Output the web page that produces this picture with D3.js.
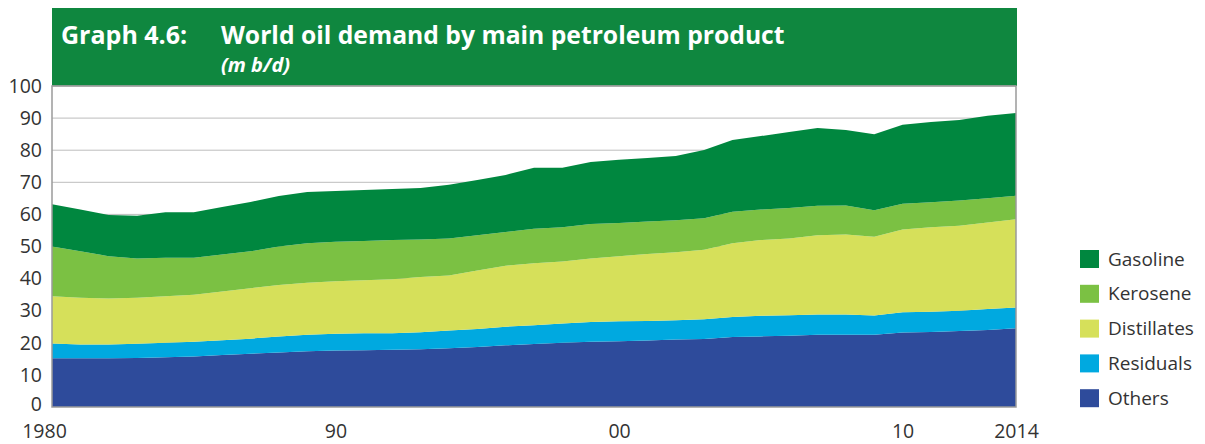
<!DOCTYPE html>
<html>
<head>
<meta charset="utf-8">
<script src="https://cdn.jsdelivr.net/npm/d3@7"></script>
<style>
  body { margin: 0; background: #fff; }
  svg { display: block; font-family: "Open Sans", "Noto Sans", sans-serif; }
</style>
</head>
<body>
<svg id="chart" width="1205" height="444"></svg>
<script>
const years = d3.range(1980, 2015);

// m b/d
const others = [15.2, 15.2, 15.2, 15.3, 15.5, 15.7, 16.2, 16.6, 17.0, 17.4,
  17.6, 17.7, 17.8, 18.0, 18.3, 18.7, 19.2, 19.6, 20.0, 20.3,
  20.5, 20.7, 21.0, 21.2, 21.8, 22.0, 22.2, 22.5, 22.5, 22.5,
  23.2, 23.4, 23.7, 24.0, 24.5];
const residuals = [4.6, 4.3, 4.3, 4.4, 4.5, 4.6, 4.6, 4.7, 5.0, 5.1,
  5.2, 5.3, 5.2, 5.3, 5.5, 5.6, 5.8, 5.9, 6.0, 6.2,
  6.2, 6.1, 6.0, 6.1, 6.2, 6.4, 6.4, 6.3, 6.3, 6.0,
  6.3, 6.3, 6.3, 6.5, 6.5];
const distillates = [14.7, 14.5, 14.3, 14.3, 14.5, 14.7, 15.2, 15.7, 16.0, 16.2,
  16.4, 16.5, 16.8, 17.2, 17.2, 18.2, 19.0, 19.3, 19.3, 19.8,
  20.3, 20.9, 21.2, 21.7, 23.0, 23.6, 23.9, 24.7, 24.9, 24.5,
  25.8, 26.3, 26.5, 27.0, 27.5];
const kerosene = [15.5, 14.5, 13.2, 12.3, 12.0, 11.5, 11.5, 11.5, 12.0, 12.3,
  12.3, 12.2, 12.2, 11.7, 11.5, 11.0, 10.5, 10.7, 10.7, 10.7,
  10.3, 10.1, 10.0, 9.8, 9.8, 9.5, 9.5, 9.2, 9.1, 8.3,
  8.0, 7.8, 7.8, 7.5, 7.3];
const gasoline = [13.2, 13.0, 12.8, 13.3, 14.2, 14.2, 14.8, 15.4, 15.7, 16.0,
  15.8, 15.9, 15.9, 16.0, 16.7, 17.2, 17.8, 19.0, 18.5, 19.3,
  19.7, 19.8, 20.0, 21.3, 22.4, 22.9, 23.7, 24.2, 23.5, 23.7,
  24.6, 25.0, 25.1, 25.7, 25.8];

const keys = ["Others", "Residuals", "Distillates", "Kerosene", "Gasoline"];
const colors = ["#2e4b9b", "#00a9e0", "#d6e05a", "#7bc143", "#00873f"];
const yTicks = d3.range(0, 101, 10);
const xTicks = [1980, 1990, 2000, 2010, 2014];
const xTickLabels = ["1980", "90", "00", "10", "2014"];

const table = years.map((yr, i) => ({
  year: yr,
  Others: others[i],
  Residuals: residuals[i],
  Distillates: distillates[i],
  Kerosene: kerosene[i],
  Gasoline: gasoline[i]
}));

const margin = {left: 52, right: 189, top: 86, bottom: 37};
const W = 1205, H = 444;

const svg = d3.select("#chart");

const x = d3.scaleLinear()
  .domain([1980, 2014])
  .range([margin.left, W - margin.right]);
const y = d3.scaleLinear()
  .domain([0, 100])
  .range([H - margin.bottom, margin.top]);
const color = d3.scaleOrdinal().domain(keys).range(colors);

// title banner
svg.append("rect")
  .attr("x", 52).attr("y", 8)
  .attr("width", W - margin.right - 52 + 1).attr("height", 78)
  .attr("fill", "#0f873f");
svg.append("text")
  .attr("x", 61).attr("y", 44)
  .attr("fill", "#fff")
  .style("font-size", "25px").style("font-weight", "bold")
  .text("Graph 4.6:");
svg.append("text")
  .attr("x", 221).attr("y", 44)
  .attr("fill", "#fff")
  .style("font-size", "24.7px").style("font-weight", "bold")
  .text("World oil demand by main petroleum product");
svg.append("text")
  .attr("x", 221).attr("y", 72)
  .attr("fill", "#fff")
  .style("font-size", "20px").style("font-weight", "bold").style("font-style", "italic")
  .text("(m b/d)");

// gridlines
svg.append("g")
  .selectAll("line")
  .data(yTicks.slice(1))
  .join("line")
  .attr("x1", x(1980)).attr("x2", x(2014))
  .attr("y1", d => y(d)).attr("y2", d => y(d))
  .attr("stroke", "#bdbdbd").attr("stroke-width", 1);

// stacked areas
const series = d3.stack().keys(keys)(table);
const area = d3.area()
  .x(d => x(d.data.year))
  .y0(d => y(d[0]))
  .y1(d => y(d[1]));

svg.append("g")
  .selectAll("path")
  .data(series)
  .join("path")
  .attr("fill", d => color(d.key))
  .attr("d", area);

// frame
svg.append("rect")
  .attr("x", x(1980)).attr("y", y(100))
  .attr("width", x(2014) - x(1980)).attr("height", y(0) - y(100))
  .attr("fill", "none").attr("stroke", "#9a9a9a").attr("stroke-width", 1.5);

// y axis
const yAxis = svg.append("g")
  .attr("transform", `translate(${x(1980)},0)`)
  .call(d3.axisLeft(y).tickValues(yTicks).tickSize(0).tickPadding(10));
yAxis.select(".domain").remove();
yAxis.selectAll("text")
  .style("font-size", "19.5px").attr("fill", "#333")
  .style("font-family", "'Open Sans', sans-serif")
  .attr("y", d => d === 0 ? -3 : 0); // nudge the 0 up, clear of "1980"

// x axis
const xAxis = svg.append("g")
  .attr("transform", `translate(0,${y(0)})`)
  .call(d3.axisBottom(x).tickValues(xTicks)
    .tickFormat((d, i) => xTickLabels[i]).tickSize(0).tickPadding(17));
xAxis.select(".domain").remove();
xAxis.selectAll("text")
  .style("font-size", "19.5px").attr("fill", "#333")
  .style("font-family", "'Open Sans', sans-serif")
  .attr("dx", (d, i) => i === 0 ? -8 : 0);

// legend
const legend = svg.append("g")
  .attr("transform", "translate(1080,250)");
const items = keys.slice().reverse();
const row = legend.selectAll("g")
  .data(items)
  .join("g")
  .attr("transform", (d, i) => `translate(0,${i * 34.8})`);
row.append("rect")
  .attr("width", 19).attr("height", 18)
  .attr("fill", d => color(d));
row.append("text")
  .attr("x", 28).attr("y", 9).attr("dy", "0.35em")
  .style("font-size", "19px").attr("fill", "#333")
  .text(d => d);
</script>
</body>
</html>
